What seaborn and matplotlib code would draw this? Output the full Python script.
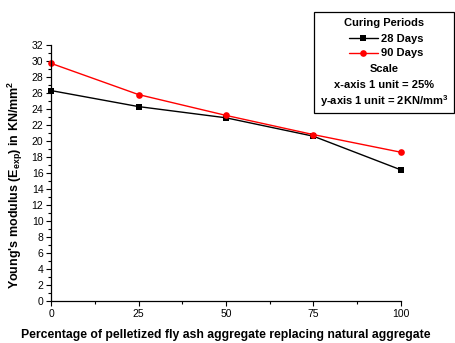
import matplotlib
matplotlib.use("Agg")
import matplotlib.pyplot as plt
from matplotlib.patches import Rectangle
from matplotlib.ticker import MultipleLocator
import seaborn as sns
import pandas as pd

replacement = [0, 25, 50, 75, 100]
days_28 = [26.3, 24.3, 22.9, 20.6, 16.4]
days_90 = [29.7, 25.8, 23.2, 20.8, 18.6]
series_names = ["28 Days", "90 Days"]

df = pd.DataFrame({
    "pct": replacement * 2,
    "E": days_28 + days_90,
    "period": [series_names[0]] * 5 + [series_names[1]] * 5,
})

sns.set_style("ticks")
plt.rcParams["font.family"] = ["Liberation Sans", "DejaVu Sans"]
plt.rcParams["text.color"] = "black"
plt.rcParams["axes.labelcolor"] = "black"
plt.rcParams["xtick.color"] = "black"
plt.rcParams["ytick.color"] = "black"

fig = plt.figure(figsize=(4.56, 3.43), dpi=100)
ax = fig.add_axes([0.112, 0.122, 0.767, 0.747])

sns.lineplot(
    data=df, x="pct", y="E", hue="period", style="period",
    palette={"28 Days": "black", "90 Days": "red"},
    markers={"28 Days": "s", "90 Days": "o"}, dashes=False,
    markersize=4.8, markeredgewidth=0, linewidth=1, ax=ax, legend=False,
    clip_on=False,
)

ax.set_xlim(0, 100)
ax.set_ylim(0, 32)
ax.xaxis.set_major_locator(MultipleLocator(25))
ax.xaxis.set_minor_locator(MultipleLocator(12.5))
ax.yaxis.set_major_locator(MultipleLocator(2))
ax.yaxis.set_minor_locator(MultipleLocator(1))
ax.tick_params(which="major", length=3.5, width=0.8, labelsize=7.5, pad=2)
ax.tick_params(which="minor", length=2, width=0.8)
sns.despine(ax=ax)
for s in ["left", "bottom"]:
    ax.spines[s].set_linewidth(0.9)
    ax.spines[s].set_color("black")

ax.set_xlabel("Percentage of pelletized fly ash aggregate replacing natural aggregate",
              fontsize=8.8, fontweight="bold", labelpad=7)
ax.set_ylabel(r"Young's modulus (E$_\mathregular{exp}$) in KN/mm$^\mathregular{2}$",
              fontsize=9, fontweight="bold")
ax.yaxis.set_label_coords(-0.074, 0.455)

# legend box
W, H = 456, 343
fig.patches.append(Rectangle((314 / W, 1 - 113 / H), 140 / W, 101 / H,
                             transform=fig.transFigure, fill=False,
                             edgecolor="black", linewidth=0.9))
cx = 384 / W
txt = dict(ha="center", va="center", fontsize=8, fontweight="bold")
fig.text(cx, 1 - 23 / H, "Curing Periods", **txt)
fig.text(cx, 1 - 69 / H, "Scale", **txt)
fig.text(cx, 1 - 85 / H, "x-axis 1 unit = 25%", **txt)
fig.text(cx, 1 - 101 / H, r"y-axis 1 unit = 2KN/mm$^\mathregular{3}$", **txt)

handles = ax.get_lines()[:2]
fig.legend(handles, series_names, loc="center", bbox_to_anchor=(cx + 0.005, 1 - 46 / H),
           frameon=False, prop={"weight": "bold", "size": 8},
           handlelength=2.6, handletextpad=0.3, labelspacing=0.45, borderpad=0)

fig.savefig("out.png", dpi=100)
